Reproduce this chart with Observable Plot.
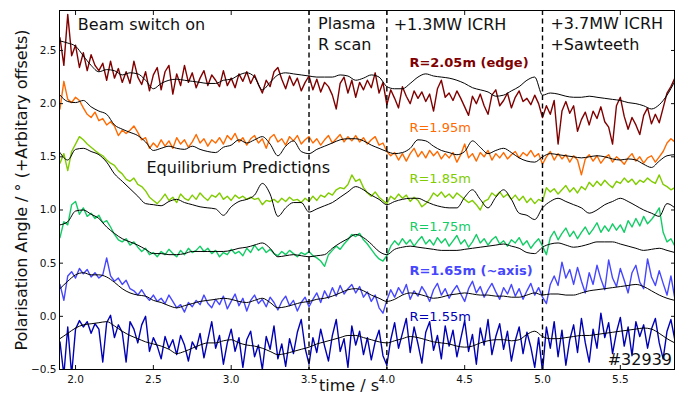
<!DOCTYPE html>
<html>
<head>
<meta charset="utf-8">
<script src="https://cdn.jsdelivr.net/npm/d3@7"></script>
<script src="https://cdn.jsdelivr.net/npm/@observablehq/plot@0.6"></script>
<style>
  html, body { margin: 0; padding: 0; background: #fff; }
  #chart { width: 688px; height: 395px; }
</style>
</head>
<body>
<div id="chart"></div>
<script>
// ---- Data ----
const tStart = 1.9;       // first sample time (s)
const dtMeas = 0.025;     // sampling step of the measured (noisy) traces
const dtEq = 0.05;        // sampling step of the equilibrium predictions

const seriesNames = ["R=2.05m (edge)", "R=1.95m", "R=1.85m", "R=1.75m", "R=1.65m (~axis)", "R=1.55m"];
const seriesColors = ["#800000", "#ff6a00", "#80cc00", "#14cc66", "#4646ff", "#0000b4"];
const labelWeights = ["bold", "normal", "normal", "normal", "bold", "normal"];

const r205 = [
  2.62,2.36,2.84,2.45,2.55,2.34,2.48,2.31,2.46,2.36,
  2.31,2.38,2.22,2.40,2.24,2.33,2.20,2.30,2.19,2.40,
  2.25,2.18,2.30,2.12,2.27,2.34,2.13,2.30,2.36,2.09,
  2.28,2.17,2.36,2.20,2.29,2.15,2.24,2.31,2.17,2.27,
  2.22,2.16,2.31,2.17,2.24,2.15,2.28,2.21,2.30,2.19,
  2.27,2.18,2.10,2.22,2.16,2.30,2.34,2.23,2.14,2.26,
  2.17,2.24,2.12,2.20,2.26,2.13,2.23,2.11,2.20,2.16,
  2.08,1.95,2.19,2.25,2.10,2.22,2.06,2.20,2.13,2.22,
  2.15,2.29,2.10,2.20,1.99,2.13,2.05,1.96,2.16,2.07,
  2.00,2.12,2.05,2.11,2.02,2.09,1.93,2.14,2.22,2.06,
  2.10,2.03,2.12,2.05,1.97,1.89,2.07,2.00,2.09,1.98,
  1.90,2.08,2.13,1.98,2.03,2.10,1.96,2.06,2.12,2.02,
  2.05,1.99,2.08,2.00,1.87,1.98,1.90,2.03,1.62,1.93,
  2.02,1.91,1.98,1.74,1.85,1.92,1.80,1.93,1.86,1.97,
  1.83,1.78,1.62,1.98,2.06,1.88,1.76,1.87,1.80,1.71,
  1.89,1.96,1.81,1.90,1.82,1.96,2.10,2.16,2.24
];
const r195 = [
  1.95,2.21,2.04,2.01,2.06,2.03,1.96,1.90,1.87,1.92,
  1.84,1.86,1.80,1.83,1.79,1.70,1.75,1.72,1.75,1.79,
  1.73,1.66,1.68,1.58,1.63,1.59,1.66,1.60,1.65,1.58,
  1.68,1.62,1.66,1.59,1.64,1.71,1.63,1.67,1.60,1.66,
  1.63,1.68,1.62,1.70,1.66,1.72,1.64,1.68,1.61,1.67,
  1.70,1.63,1.67,1.58,1.68,1.71,1.64,1.67,1.61,1.69,
  1.65,1.70,1.62,1.66,1.69,1.63,1.67,1.61,1.66,1.70,
  1.63,1.67,1.71,1.64,1.69,1.65,1.70,1.64,1.68,1.62,
  1.66,1.69,1.61,1.63,1.55,1.51,1.54,1.47,1.53,1.46,
  1.53,1.58,1.50,1.55,1.49,1.56,1.51,1.55,1.48,1.53,
  1.49,1.54,1.45,1.52,1.62,1.49,1.53,1.46,1.54,1.50,
  1.56,1.47,1.53,1.49,1.54,1.48,1.52,1.55,1.49,1.54,
  1.51,1.56,1.50,1.53,1.43,1.50,1.55,1.47,1.53,1.48,
  1.52,1.45,1.51,1.47,1.33,1.48,1.52,1.46,1.51,1.44,
  1.49,1.52,1.45,1.50,1.47,1.43,1.49,1.53,1.46,1.50,
  1.44,1.49,1.51,1.45,1.50,1.55,1.63,1.67,1.64
];
const r185 = [
  1.44,1.53,1.37,1.55,1.62,1.69,1.66,1.62,1.59,1.56,
  1.53,1.51,1.47,1.44,1.42,1.37,1.34,1.29,1.27,1.30,
  1.24,1.22,1.18,1.12,1.09,1.06,1.10,1.15,1.09,1.12,
  1.07,1.15,1.11,1.09,1.14,1.10,1.16,1.12,1.09,1.14,
  1.12,1.16,1.10,1.13,1.09,1.14,1.11,1.13,1.10,1.12,
  1.10,1.11,1.05,1.09,1.08,1.10,1.07,1.11,1.08,1.12,
  1.09,1.10,1.07,1.11,1.08,1.13,1.09,1.14,1.12,1.16,
  1.14,1.19,1.21,1.20,1.24,1.33,1.27,1.29,1.21,1.16,
  1.13,1.17,1.12,1.09,1.06,1.13,1.10,1.15,1.11,1.14,
  1.08,1.12,1.09,1.03,1.06,1.10,1.16,1.13,1.17,1.12,
  1.15,1.11,1.16,1.13,1.10,1.07,1.09,1.05,1.00,1.08,
  1.10,1.16,1.13,1.17,1.12,1.15,1.10,1.14,1.09,1.13,
  1.07,1.11,1.06,1.10,1.08,1.21,1.17,1.20,1.15,1.19,
  1.23,1.17,1.21,1.16,1.22,1.19,1.26,1.22,1.27,1.23,
  1.28,1.24,1.21,1.27,1.25,1.30,1.26,1.29,1.24,1.28,
  1.26,1.30,1.27,1.25,1.33,1.24,1.22,1.19,1.21
];
const r175 = [
  0.74,0.89,0.86,1.05,1.08,0.96,1.02,0.94,0.97,0.92,
  0.95,0.88,0.90,0.84,0.77,0.72,0.70,0.73,0.67,0.70,
  0.65,0.61,0.64,0.58,0.60,0.56,0.61,0.58,0.63,0.59,
  0.56,0.62,0.58,0.64,0.60,0.62,0.66,0.61,0.64,0.59,
  0.62,0.56,0.60,0.58,0.63,0.59,0.61,0.57,0.64,0.60,
  0.67,0.62,0.65,0.60,0.63,0.59,0.57,0.61,0.58,0.62,
  0.59,0.56,0.60,0.58,0.61,0.57,0.55,0.52,0.47,0.58,
  0.62,0.66,0.63,0.68,0.72,0.77,0.75,0.78,0.72,0.68,
  0.63,0.58,0.54,0.52,0.57,0.66,0.71,0.67,0.73,0.68,
  0.72,0.66,0.71,0.75,0.68,0.72,0.67,0.74,0.69,0.73,
  0.66,0.71,0.76,0.68,0.72,0.65,0.70,0.77,0.69,0.73,
  0.67,0.72,0.75,0.68,0.71,0.66,0.72,0.69,0.74,0.67,
  0.71,0.64,0.69,0.73,0.66,0.58,0.74,0.80,0.72,0.78,
  0.83,0.75,0.80,0.73,0.79,0.84,0.77,0.82,0.88,0.79,
  0.85,0.80,0.87,0.81,0.86,0.79,0.90,0.84,0.92,0.85,
  0.94,0.87,0.91,0.96,1.02,0.79,0.70,0.73,0.66
];
const r165 = [
  0.30,0.15,0.38,0.42,0.36,0.45,0.40,0.44,0.37,0.41,
  0.36,0.39,0.55,0.38,0.33,0.36,0.30,0.34,0.26,0.24,
  0.20,0.25,0.19,0.15,0.20,0.14,0.17,0.12,0.20,0.14,
  0.08,0.11,0.04,0.13,0.09,0.15,0.11,0.20,0.12,0.08,
  0.16,0.11,0.19,0.07,0.14,0.21,0.10,0.17,0.05,0.15,
  0.20,0.12,0.16,0.09,0.18,0.13,0.06,0.14,0.19,0.10,
  0.15,0.05,0.13,0.18,0.09,0.16,0.22,0.13,0.24,0.17,
  0.27,0.19,0.29,0.21,0.26,0.30,0.22,0.28,0.18,0.23,
  0.14,0.20,0.08,0.03,0.15,0.25,0.18,0.27,0.21,0.30,
  0.16,0.24,0.19,0.28,0.22,0.14,0.25,0.31,0.20,0.26,
  0.17,0.24,0.29,0.21,0.14,0.26,0.33,0.22,0.28,0.18,
  0.25,0.31,0.23,0.16,0.27,0.21,0.30,0.19,0.26,0.16,
  0.24,0.31,0.20,0.27,0.18,0.12,0.30,0.38,0.29,0.51,
  0.36,0.44,0.30,0.46,0.33,0.22,0.41,0.30,0.48,0.35,
  0.25,0.53,0.36,0.28,0.45,0.34,0.22,0.41,0.48,0.32,
  0.26,0.54,0.37,0.29,0.43,0.31,0.20,0.38,0.17
];
const r155 = [
  -0.24,-0.55,-0.10,-0.55,-0.12,-0.04,-0.10,-0.05,-0.16,-0.07,
  -0.12,-0.43,-0.06,0.01,-0.20,-0.08,-0.15,-0.43,-0.05,-0.12,
  -0.25,-0.08,0.00,-0.33,-0.20,-0.28,-0.40,-0.19,-0.30,-0.22,
  -0.36,-0.18,-0.27,-0.42,-0.24,-0.31,-0.16,-0.39,-0.22,-0.05,
  -0.30,-0.18,-0.45,-0.25,-0.12,-0.33,-0.20,-0.48,-0.22,-0.14,
  -0.38,-0.27,-0.50,-0.19,-0.31,-0.09,-0.40,-0.26,-0.47,-0.21,
  -0.35,-0.15,-0.03,-0.30,-0.45,-0.20,-0.34,-0.12,-0.28,-0.42,
  -0.18,-0.03,-0.33,-0.21,-0.48,-0.09,-0.27,-0.14,-0.36,-0.20,
  -0.41,-0.24,-0.13,-0.37,-0.46,-0.22,-0.06,-0.30,-0.16,-0.02,
  -0.34,-0.10,-0.26,-0.44,-0.15,-0.05,-0.32,-0.18,-0.40,-0.09,
  -0.28,-0.13,-0.38,-0.21,-0.04,-0.33,-0.17,-0.45,-0.11,-0.27,
  -0.03,-0.36,-0.19,-0.07,-0.31,-0.14,-0.42,-0.23,-0.10,-0.35,
  -0.15,-0.29,-0.48,-0.20,-0.52,-0.10,-0.30,-0.05,-0.38,-0.13,
  -0.46,-0.22,-0.08,-0.34,-0.02,-0.25,-0.43,-0.12,-0.30,0.03,
  -0.20,-0.06,-0.35,-0.15,-0.01,-0.28,-0.10,-0.37,-0.05,-0.19,
  -0.08,-0.30,-0.12,-0.02,-0.25,-0.40,-0.14,-0.03,-0.22
];

// Equilibrium predictions (black curves)
const e205 = [
  2.59,2.57,2.54,2.45,2.36,2.30,2.32,2.31,2.27,2.29,
  2.28,2.22,2.14,2.19,2.22,2.23,2.22,2.21,2.20,2.19,
  2.19,2.22,2.23,2.27,2.29,2.25,2.13,2.20,2.27,2.29,
  2.28,2.27,2.26,2.25,2.25,2.25,2.27,2.26,2.22,2.24,
  2.27,2.25,2.16,2.14,2.14,2.19,2.25,2.28,2.26,2.25,
  2.24,2.22,2.19,2.15,2.13,2.11,2.07,2.08,2.12,2.16,
  2.22,2.25,2.08,2.10,2.09,2.07,2.06,2.06,2.07,2.06,
  2.05,2.04,2.03,2.01,2.00,1.98,1.95,1.99,2.08,2.21
];
const e195 = [
  2.08,2.02,2.01,2.03,1.97,1.93,1.90,1.80,1.76,1.73,
  1.70,1.64,1.56,1.58,1.60,1.58,1.57,1.60,1.57,1.55,
  1.54,1.59,1.61,1.66,1.63,1.66,1.69,1.62,1.51,1.60,
  1.65,1.55,1.53,1.57,1.60,1.63,1.66,1.67,1.67,1.65,
  1.61,1.58,1.55,1.53,1.54,1.58,1.66,1.65,1.60,1.56,
  1.54,1.52,1.55,1.65,1.59,1.53,1.56,1.58,1.54,1.49,
  1.46,1.45,1.50,1.53,1.52,1.51,1.50,1.49,1.50,1.51,
  1.50,1.48,1.47,1.48,1.47,1.43,1.40,1.46,1.51,1.52
];
const e185 = [
  1.54,1.47,1.57,1.58,1.55,1.52,1.45,1.34,1.27,1.20,
  1.13,1.06,1.05,1.04,1.08,1.10,1.07,1.05,1.03,1.02,
  1.01,0.95,1.03,1.08,1.10,1.14,1.25,1.15,0.94,1.02,
  1.07,1.07,0.98,1.01,1.04,1.07,1.12,1.17,1.22,1.19,
  1.14,1.10,1.05,1.08,1.10,1.11,1.11,1.08,1.05,1.03,
  1.02,1.02,1.12,1.19,1.10,1.02,1.12,1.19,1.10,0.97,
  0.95,0.91,1.02,1.08,1.11,1.08,1.05,1.02,0.97,1.00,
  1.05,1.08,1.11,1.08,1.04,1.00,0.97,0.94,1.06,1.02
];
const e175 = [
  0.86,0.89,0.99,1.00,0.96,0.92,0.84,0.78,0.73,0.70,
  0.67,0.63,0.59,0.59,0.58,0.58,0.59,0.61,0.61,0.61,
  0.61,0.61,0.62,0.64,0.65,0.67,0.69,0.64,0.56,0.57,
  0.58,0.57,0.56,0.57,0.58,0.64,0.69,0.73,0.77,0.74,
  0.68,0.61,0.58,0.63,0.65,0.66,0.65,0.64,0.63,0.62,
  0.62,0.62,0.63,0.64,0.65,0.66,0.67,0.68,0.66,0.64,
  0.60,0.59,0.65,0.68,0.69,0.67,0.65,0.66,0.68,0.70,
  0.70,0.70,0.68,0.66,0.64,0.62,0.63,0.64,0.62,0.60
];
const e165 = [
  0.26,0.33,0.39,0.41,0.39,0.39,0.37,0.32,0.26,0.22,
  0.20,0.19,0.15,0.13,0.10,0.08,0.10,0.12,0.14,0.15,
  0.16,0.17,0.16,0.14,0.13,0.15,0.17,0.13,0.08,0.09,
  0.11,0.13,0.14,0.16,0.17,0.19,0.22,0.25,0.26,0.24,
  0.20,0.17,0.14,0.16,0.20,0.22,0.21,0.19,0.17,0.18,
  0.20,0.21,0.22,0.21,0.20,0.20,0.19,0.19,0.18,0.18,
  0.20,0.22,0.20,0.21,0.21,0.20,0.20,0.22,0.24,0.25,
  0.26,0.27,0.28,0.29,0.30,0.28,0.24,0.20,0.17,0.15
];
const e155 = [
  -0.21,-0.16,-0.11,-0.08,-0.07,-0.06,-0.05,-0.09,-0.14,-0.18,
  -0.21,-0.24,-0.26,-0.28,-0.31,-0.35,-0.33,-0.30,-0.27,-0.25,
  -0.25,-0.23,-0.22,-0.25,-0.27,-0.28,-0.30,-0.33,-0.36,-0.35,
  -0.33,-0.31,-0.29,-0.26,-0.24,-0.22,-0.20,-0.18,-0.18,-0.20,
  -0.22,-0.24,-0.25,-0.23,-0.21,-0.19,-0.20,-0.22,-0.24,-0.25,
  -0.26,-0.28,-0.29,-0.28,-0.25,-0.23,-0.22,-0.22,-0.23,-0.22,
  -0.17,-0.14,-0.19,-0.21,-0.21,-0.20,-0.19,-0.18,-0.18,-0.17,
  -0.16,-0.15,-0.14,-0.13,-0.12,-0.11,-0.12,-0.16,-0.21,-0.25
];

const phaseTimes = [3.5, 4.0, 5.0];
const xTicks = [2.0, 2.5, 3.0, 3.5, 4.0, 4.5, 5.0, 5.5];
const yTicks = [-0.5, 0.0, 0.5, 1.0, 1.5, 2.0, 2.5];

const phaseLabels = ["Beam switch on", "Plasma", "R scan", "+1.3MW ICRH", "+3.7MW ICRH", "+Sawteeth"];
const eqLabel = "Equilibrium Predictions";
const shotLabel = "#32939";
const xTitle = "time / s";
const yTitle = "Polarisation Angle / ° (+Arbitary offsets)";

// ---- Layout (positions in data units) ----
const phaseLabelPos = [[2.015, 2.745], [3.558, 2.75], [3.558, 2.556], [4.044, 2.745], [5.051, 2.75], [5.051, 2.556]];
const seriesLabelPos = [[4.145, 2.387], [4.145, 1.77], [4.145, 1.294], [4.145, 0.839], [4.145, 0.432], [4.145, 0.0]];

// ---- Build tables ----
const measured = [r205, r195, r185, r175, r165, r155];
const equil = [e205, e195, e185, e175, e165, e155];
const toRows = (vals, dt) => vals.map((v, i) => ({t: tStart + i * dt, v}));

const marks = [];
measured.forEach((vals, k) => {
  marks.push(Plot.line(toRows(vals, dtMeas), {x: "t", y: "v", stroke: seriesColors[k], strokeWidth: 1.4, clip: true}));
});
equil.forEach((vals) => {
  marks.push(Plot.line(toRows(vals, dtEq), {x: "t", y: "v", stroke: "black", strokeWidth: 1, curve: "monotone-x", clip: true}));
});
marks.push(Plot.ruleX(phaseTimes, {stroke: "black", strokeWidth: 1.4, strokeDasharray: "5,3.5"}));

// phase annotations
marks.push(Plot.text(phaseLabels.map((s, i) => ({s, x: phaseLabelPos[i][0], y: phaseLabelPos[i][1]})),
  {x: "x", y: "y", text: "s", textAnchor: "start", lineAnchor: "middle", fontSize: 16, fill: "#111"}));
marks.push(Plot.text([eqLabel], {x: 2.456, y: 1.40, text: d => d, textAnchor: "start", lineAnchor: "middle", fontSize: 16, fill: "#111"}));
// series labels (one mark each so weight can differ)
seriesNames.forEach((s, i) => {
  marks.push(Plot.text([s], {x: seriesLabelPos[i][0], y: seriesLabelPos[i][1], text: d => d,
    textAnchor: "start", lineAnchor: "middle", fontSize: 13, fill: seriesColors[i], fontWeight: labelWeights[i]}));
});
marks.push(Plot.text([shotLabel], {x: 5.832, y: -0.41, text: d => d, textAnchor: "end", lineAnchor: "middle", fontSize: 16, fill: "#111"}));

// axes (inward ticks on all four sides)
const fmt = d3.format(".1f");
marks.push(Plot.axisX(xTicks, {anchor: "bottom", tickSize: -4, tickPadding: 10, tickFormat: fmt, label: null, fontSize: 10.5}));
marks.push(Plot.axisX(xTicks, {anchor: "top", tickSize: -4, tickFormat: () => "", label: null}));
marks.push(Plot.axisY(yTicks, {anchor: "left", tickSize: -4, tickPadding: 7, tickFormat: fmt, label: null, fontSize: 10.5}));
marks.push(Plot.axisY(yTicks, {anchor: "right", tickSize: -4, tickFormat: () => "", label: null}));
marks.push(Plot.frame({stroke: "black", strokeWidth: 1}));

// axis titles
marks.push(Plot.text([xTitle], {frameAnchor: "bottom", dx: -18, dy: 16, text: d => d, fontSize: 16, fill: "#111",
  textAnchor: "middle", lineAnchor: "middle"}));
marks.push(Plot.text([yTitle], {frameAnchor: "left", dx: -38, rotate: -90, text: d => d, fontSize: 16, fill: "#111",
  textAnchor: "middle", lineAnchor: "middle"}));

const chart = Plot.plot({
  width: 688,
  height: 395,
  marginLeft: 59,
  marginRight: 14,
  marginTop: 10,
  marginBottom: 26,
  style: {fontFamily: "'DejaVu Sans', sans-serif", fontSize: "10.5px", background: "white", color: "#111", overflow: "visible"},
  x: {domain: [1.897, 5.848], axis: null},
  y: {domain: [-0.5, 2.876], axis: null},
  marks
});
document.getElementById("chart").appendChild(chart);
</script>
</body>
</html>
